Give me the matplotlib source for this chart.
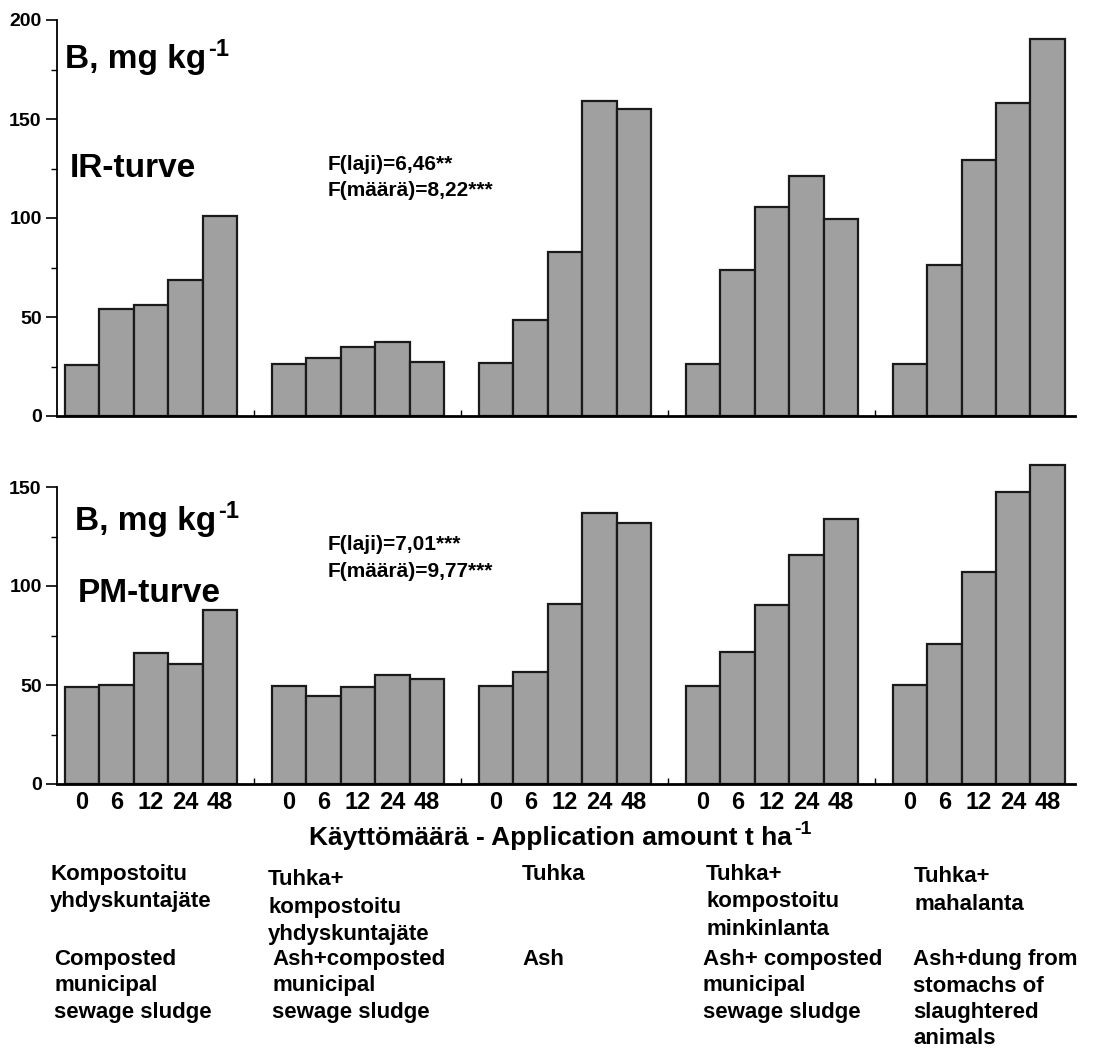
import matplotlib
matplotlib.use("Agg")
import matplotlib.pyplot as plt
import numpy as np
from matplotlib.ticker import MultipleLocator

plt.rcParams['font.family'] = ['Liberation Sans', 'DejaVu Sans']
plt.rcParams['font.weight'] = 'bold'

amounts = ["0", "6", "12", "24", "48"]
labels_fi = ["Kompostoitu\nyhdyskuntajäte",
             "Tuhka+\nkompostoitu\nyhdyskuntajäte",
             "Tuhka",
             "Tuhka+\nkompostoitu\nminkinlanta",
             "Tuhka+\nmahalanta"]
labels_en = ["Composted\nmunicipal\nsewage sludge",
             "Ash+composted\nmunicipal\nsewage sludge",
             "Ash",
             "Ash+ composted\nmunicipal\nsewage sludge",
             "Ash+dung from\nstomachs of\nslaughtered\nanimals"]

ir_values = [[26, 54, 56, 68.5, 101],
             [26.5, 29.5, 35, 37.5, 27.5],
             [27, 48.5, 83, 159, 155],
             [26.5, 73.5, 105.5, 121, 99.5],
             [26.5, 76.5, 129.5, 158, 190.5]]
pm_values = [[49, 50, 66, 60.5, 88],
             [49.5, 44.5, 49, 55, 53],
             [49.5, 56.5, 91, 137, 132],
             [49.5, 66.5, 90.5, 115.5, 134],
             [50, 70.5, 107, 147.5, 161]]

W, H = 1093, 1051
fig = plt.figure(figsize=(W / 100, H / 100), dpi=100)
renderer = fig.canvas.get_renderer()

def px_axes(left, right, top, bottom):
    return fig.add_axes([left / W, 1 - bottom / H, (right - left) / W, (bottom - top) / H])

bar_color = "#a0a0a0"
edge_color = "#1a1a1a"

def draw_panel(ax, values, ymax_spine, ylim_top, show_labels):
    for g, vals in enumerate(values):
        xs = [g * 6 + i for i in range(len(vals))]
        ax.bar(xs, vals, width=1.0, color=bar_color, edgecolor=edge_color,
               linewidth=1.6, zorder=2)
    ax.set_xlim(-0.72, 28.79)
    ax.set_ylim(0, ylim_top)
    for s in ["top", "right"]:
        ax.spines[s].set_visible(False)
    ax.spines["left"].set_bounds(0, ymax_spine)
    ax.spines["left"].set_linewidth(1.3)
    ax.spines["bottom"].set_linewidth(2.0)
    ax.set_yticks(np.arange(0, ymax_spine + 1, 50))
    ax.yaxis.set_minor_locator(MultipleLocator(25))
    ax.tick_params(axis="y", which="major", length=8, width=1.2, direction="out",
                   labelsize=14, pad=3)
    ax.tick_params(axis="y", which="minor", length=4, width=1.0, direction="out")
    for t in ax.get_yticklabels():
        t.set_fontweight("bold")
    ticks = list(range(0, 29))
    ax.set_xticks(ticks)
    if show_labels:
        lbls = [amounts[t % 6] if t % 6 < 5 else "" for t in ticks]
        ax.set_xticklabels(lbls, fontsize=17, fontweight="bold")
    else:
        ax.set_xticklabels([])
    ax.tick_params(axis="x", length=4, width=1.0, direction="in", pad=5)

ax1 = px_axes(57, 1075, 20, 416)
draw_panel(ax1, ir_values, 200, 200, False)
ax2 = px_axes(57, 1075, 784 - 165 * 1.98, 784)
draw_panel(ax2, pm_values, 150, 165, True)

def btext(x, y, s, size, **kw):
    """Text with baseline at pixel y, left edge at pixel x."""
    return fig.text(x / W, 1 - y / H, s, fontsize=size, fontweight="bold",
                    va="baseline", ha="left", **kw)

def with_sup(x, y, s, size, sup, sup_size, rise):
    t = btext(x, y, s, size)
    bb = t.get_window_extent(renderer=renderer)
    btext(bb.x1 + 2, y - rise, sup, sup_size)

with_sup(65, 68, "B, mg kg", 24, "-1", 17, 12)
btext(70, 177, "IR-turve", 24)
btext(328, 170, "F(laji)=6,46**", 15)
btext(328, 196, "F(määrä)=8,22***", 15)

with_sup(75, 530, "B, mg kg", 24, "-1", 17, 12)
btext(78, 602, "PM-turve", 24)
btext(328, 550, "F(laji)=7,01***", 15)
btext(328, 577, "F(määrä)=9,77***", 15)

with_sup(309, 845, "Käyttömäärä - Application amount t ha", 19, "-1", 14, 11)

fi_x = [50, 268, 522, 706, 914]
fi_base = [880, 885, 880, 880, 882]
en_x = [54, 272, 522, 703, 913]
en_base = 965
step = 26.5
for i in range(5):
    for j, line in enumerate(labels_fi[i].split("\n")):
        btext(fi_x[i], fi_base[i] + j * 27.5, line, 16)
    for j, line in enumerate(labels_en[i].split("\n")):
        btext(en_x[i], en_base + j * step, line, 16)

fig.savefig("out.png", dpi=100, facecolor="white")
